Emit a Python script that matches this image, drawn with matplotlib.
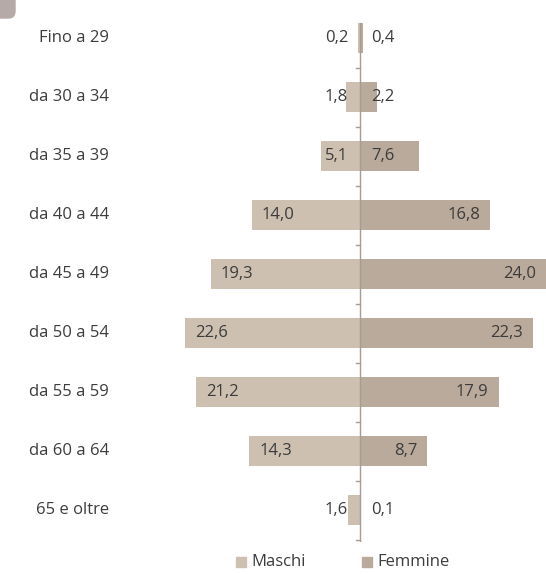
import matplotlib
matplotlib.use('Agg')
import matplotlib.pyplot as plt
from matplotlib.patches import Rectangle, FancyBboxPatch

# Dati
classi = ["Fino a 29", "da 30 a 34", "da 35 a 39", "da 40 a 44", "da 45 a 49",
          "da 50 a 54", "da 55 a 59", "da 60 a 64", "65 e oltre"]
maschi = [0.2, 1.8, 5.1, 14.0, 19.3, 22.6, 21.2, 14.3, 1.6]
femmine = [0.4, 2.2, 7.6, 16.8, 24.0, 22.3, 17.9, 8.7, 0.1]

col_m = "#cdc0b0"
col_f = "#b9aa9b"
col_txt = "#3c3c3c"
fs = 12
W, H = 546, 574
plt.rcParams['font.family'] = ['Open Sans', 'DejaVu Sans']

fig = plt.figure(figsize=(W / 100, H / 100), dpi=100)
# assi: x pixel 170..546, y pixel 20..542
ax = fig.add_axes([170 / W, 1 - 542 / H, (546 - 170) / W, (542 - 20) / H])
ppu = 7.74  # pixel per unita'
ax.set_xlim(-(360 - 170) / ppu, 186 / ppu)
ax.set_ylim((542 - 38) / 59, (20 - 38) / 59)
ax.axis('off')

y = list(range(len(classi)))
ax.barh(y, [-v for v in maschi], height=0.52, color=col_m, zorder=1)
ax.barh(y, femmine, height=0.52, color=col_f, zorder=1)

# asse centrale con tacche
ax.plot([0, 0], [(542 - 38) / 59, (23 - 38) / 59], color="#a59c94", lw=1, zorder=3)
for i in range(len(classi)):
    ax.plot([-0.55, 0], [i + 0.5, i + 0.5], color="#a59c94", lw=1, zorder=3)

# etichette valori
off = 10 / ppu
for i, (m, f) in enumerate(zip(maschi, femmine)):
    tm = f"{m:.1f}".replace(".", ",")
    tf = f"{f:.1f}".replace(".", ",")
    if m >= 8:
        ax.text(-m + off, i, tm, ha="left", va="center", fontsize=fs, color=col_txt, zorder=4)
    else:
        ax.text(-12 / ppu, i, tm, ha="right", va="center", fontsize=fs, color=col_txt, zorder=4)
    if f >= 8:
        ax.text(f - off, i, tf, ha="right", va="center", fontsize=fs, color=col_txt, zorder=4)
    else:
        ax.text(11 / ppu, i, tf, ha="left", va="center", fontsize=fs, color=col_txt, zorder=4)

# etichette categorie
for i, c in enumerate(classi):
    fig.text(109 / W, 1 - (38 + 59 * i) / H, c, ha="right", va="center",
             fontsize=fs, color=col_txt)

# legenda
for x0, lab, col in [(236, "Maschi", col_m), (362, "Femmine", col_f)]:
    fig.add_artist(Rectangle((x0 / W, 1 - 567 / H), 10 / W, 10 / H,
                             transform=fig.transFigure, color=col))
    fig.text((x0 + 15) / W, 1 - 562 / H, lab, ha="left", va="center",
             fontsize=fs, color=col_txt)

# angolo grigio in alto a sinistra
fig.add_artist(FancyBboxPatch((-20 / W, 1 - 18 / H), 35 / W, 40 / H,
                              boxstyle="round,pad=0,rounding_size=0.012",
                              transform=fig.transFigure, color="#b5aaa6"))

fig.savefig("out.png", dpi=100)
plt.close()
